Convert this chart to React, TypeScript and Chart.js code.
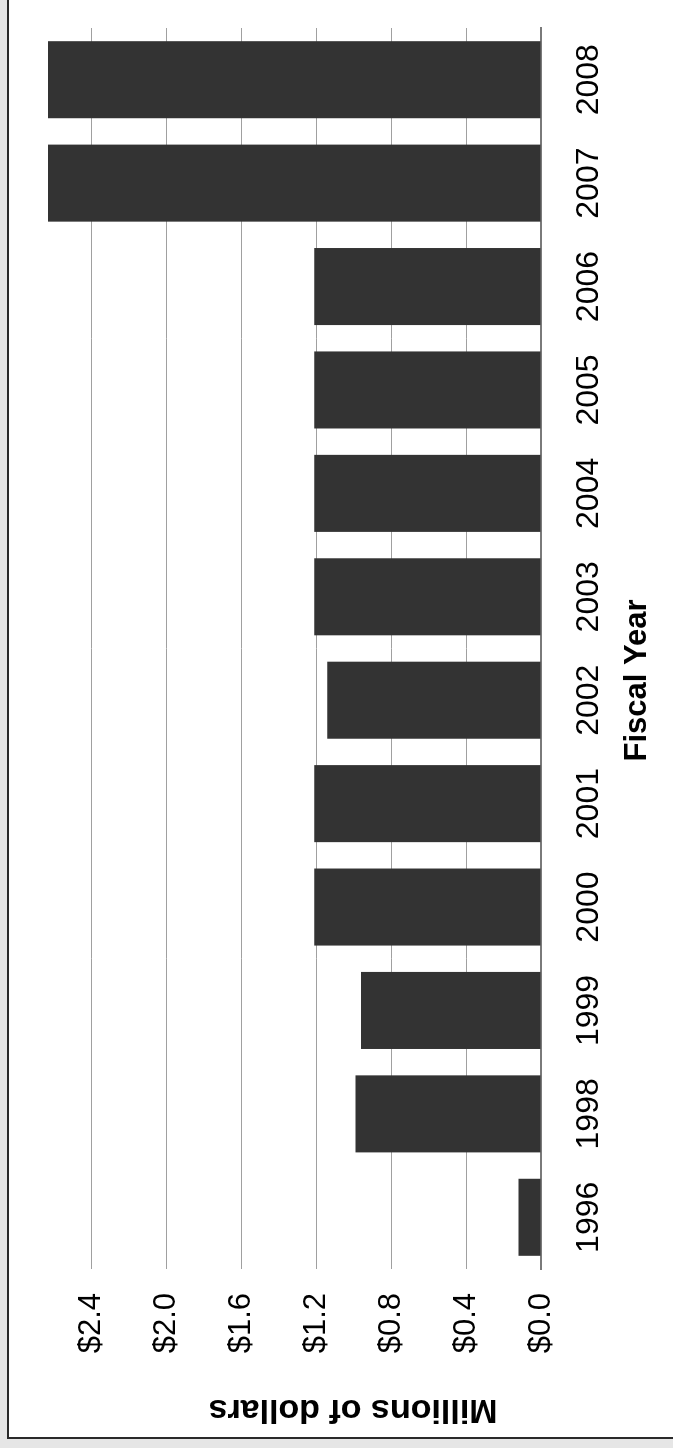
import React, { useEffect, useRef } from "react";
import { Chart, registerables } from "chart.js";

Chart.register(...registerables);

const years = ["1996", "1998", "1999", "2000", "2001", "2002", "2003", "2004", "2005", "2006", "2007", "2008"];
const funding = [0.12, 0.99, 0.96, 1.21, 1.21, 1.14, 1.21, 1.21, 1.21, 1.21, 2.63, 2.63];
const xTitle = "Fiscal Year";
const yTitle = "Millions of dollars";

const W = 1436;
const H = 664;
const FONT = "'Liberation Sans', Arial, Helvetica, sans-serif";

const titlesPlugin = {
  id: "rotatedTitles",
  afterDraw(chart: any) {
    const { ctx, chartArea } = chart;
    ctx.save();
    ctx.fillStyle = "#000";
    ctx.font = `bold 31px ${FONT}`;
    ctx.textAlign = "center";
    ctx.textBaseline = "middle";
    ctx.fillText(xTitle, (chartArea.left + chartArea.right) / 2 - 32, chartArea.bottom + 96);
    ctx.translate(chartArea.left - 140, chartArea.bottom - 188);
    ctx.rotate(-Math.PI / 2);
    ctx.font = `bold 34px ${FONT}`;
    ctx.fillText(yTitle, 0, 0);
    ctx.restore();
  },
};

export default function App() {
  const ref = useRef<HTMLCanvasElement>(null);

  useEffect(() => {
    if (!ref.current) return;
    const chart = new Chart(ref.current, {
      type: "bar",
      data: {
        labels: years,
        datasets: [
          {
            data: funding,
            backgroundColor: "#333333",
            borderWidth: 0,
            categoryPercentage: 1,
            barPercentage: 0.745,
          },
        ],
      },
      options: {
        animation: false,
        responsive: false,
        devicePixelRatio: 1,
        layout: { padding: { left: 0, right: 28, top: 39, bottom: 0 } },
        plugins: { legend: { display: false }, tooltip: { enabled: false }, title: { display: false } },
        scales: {
          x: {
            grid: { display: false, drawTicks: false },
            border: { display: true, color: "#7a7a7a", width: 2 },
            ticks: { color: "#000", font: { family: FONT, size: 32 }, padding: 29, maxRotation: 0, autoSkip: false },
            afterFit: (s: any) => { s.height = 132; s.paddingLeft = 0; s.paddingRight = 0; },
          },
          y: {
            min: 0,
            max: 2.63,
            grid: { color: "#a0a0a0", lineWidth: 1, drawTicks: false },
            border: { display: false },
            ticks: {
              stepSize: 0.4,
              includeBounds: false,
              color: "#000",
              font: { family: FONT, size: 31 },
              padding: 24,
              callback: (v: any) => "$" + Number(v).toFixed(1),
            },
            afterFit: (s: any) => { s.width = 167; s.paddingTop = 0; s.paddingBottom = 0; },
          },
        },
      },
      plugins: [titlesPlugin],
    });
    return () => chart.destroy();
  }, []);

  return (
    <div style={{ position: "fixed", left: 0, top: 0, width: 673, height: 1448, background: "#e6e6e6", overflow: "hidden" }}>
      <div
        style={{
          position: "absolute",
          left: 7,
          top: -4,
          width: 700,
          height: 1443,
          background: "#fff",
          borderLeft: "2px solid #2a2a2a",
          borderBottom: "2px solid #2a2a2a",
          boxSizing: "border-box",
        }}
      />
      <div
        style={{
          position: "absolute",
          left: 9,
          top: 0,
          width: W,
          height: H,
          transformOrigin: "0 0",
          transform: `translateY(${W}px) rotate(-90deg)`,
        }}
      >
        <canvas ref={ref} width={W} height={H} style={{ width: W, height: H, display: "block" }} />
      </div>
    </div>
  );
}
